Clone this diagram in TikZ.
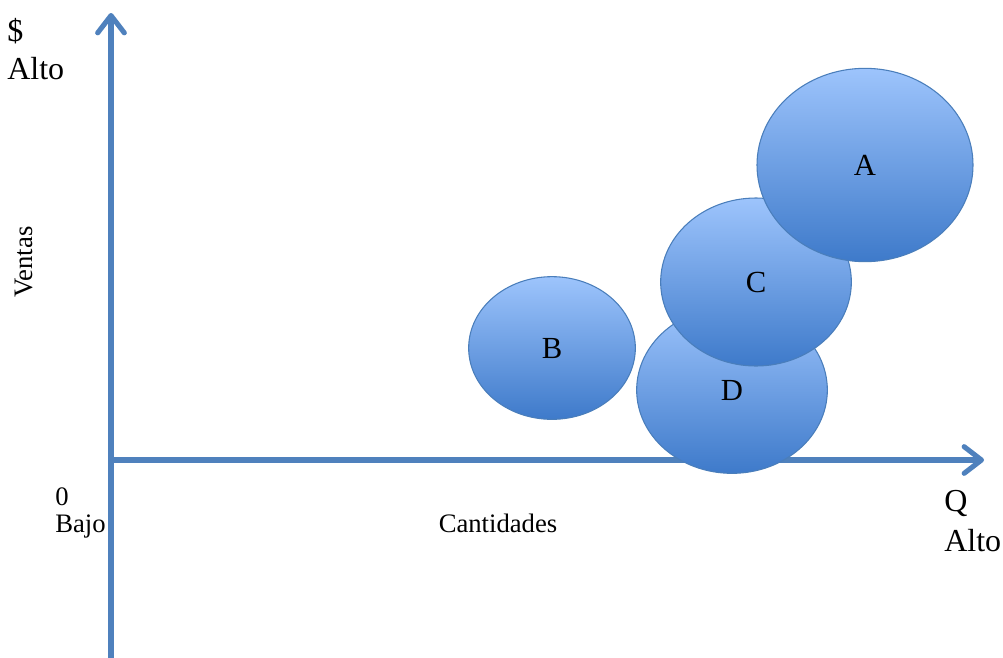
\documentclass[tikz,border=0pt]{standalone}
\usepackage{fontspec}
\setmainfont{Liberation Serif}
\usetikzlibrary{shapes.geometric,arrows.meta}
\definecolor{axisblue}{RGB}{79,129,189}
\definecolor{bubtop}{RGB}{157,196,252}
\definecolor{bubbot}{RGB}{62,122,202}
\definecolor{bubline}{RGB}{74,126,187}
\begin{document}
\begin{tikzpicture}[x=0.75pt,y=-0.75pt,
  axis/.style={draw=axisblue,line width=3.8pt,-{Straight Barb[length=13pt,width=20pt,line cap=round,line join=round]}},
  bub/.style={ellipse,draw=bubline,line width=0.8pt,top color=bubtop,bottom color=bubbot,inner sep=0pt,font=\fontsize{23}{27}\selectfont},
  big/.style={font=\fontsize{24}{28}\selectfont,inner sep=0pt},
  small/.style={font=\fontsize{20}{24}\selectfont,inner sep=0pt}]
\useasboundingbox (0,0) rectangle (1003,657);
\coordinate (yb) at (111,660);
\coordinate (yt) at (111,13);
\coordinate (xl) at (108,460);
\coordinate (xr) at (984,460);
\draw[axis] (yb) -- (yt);
\draw[axis] (xl) -- (xr);
\node[bub,minimum width=143pt,minimum height=125pt] (D) at (732,390) {D};
\node[bub,minimum width=143pt,minimum height=126pt] (C) at (756,282) {C};
\node[bub,minimum width=162pt,minimum height=145pt] (A) at (865,165) {A};
\node[bub,minimum width=125pt,minimum height=107pt] (B) at (552,348) {B};
\node[big,anchor=west] (dol) at (7,31) {\$};
\node[big,anchor=west] (alto1) at (7,69) {Alto};
\node[big,anchor=west] (Q) at (944,503) {Q};
\node[big,anchor=west] (alto2) at (944,541) {Alto};
\node[small,anchor=west] (cero) at (55,497) {0};
\node[small,anchor=west] (bajo) at (55,527) {Bajo};
\node[small] (cant) at (498,523) {Cantidades};
\node[small,rotate=90] (ventas) at (24,262) {Ventas};
\end{tikzpicture}
\end{document}
